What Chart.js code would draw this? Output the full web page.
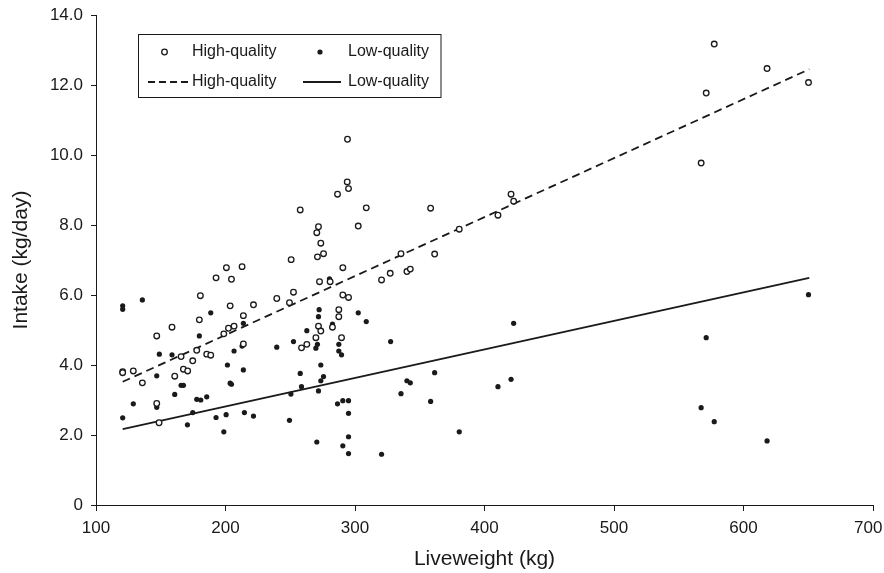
<!DOCTYPE html>
<html>
<head>
<meta charset="utf-8">
<title>Intake vs liveweight</title>
<script src="https://cdn.jsdelivr.net/npm/chart.js@4.4.1/dist/chart.umd.min.js"></script>
<style>
  html, body { margin: 0; padding: 0; background: #fff; }
  #chart-wrap { width: 884px; height: 573px; }
</style>
</head>
<body>
<div id="chart-wrap"><canvas id="intakeChart" width="884" height="573"></canvas></div>
<script>
// Values
const hqWeight = [120.6, 120.6, 128.8, 135.8, 146.9, 146.9, 148.7, 158.7, 160.8, 165.7,
  167.5, 170.8, 174.7, 177.8, 179.8, 180.6, 185.5, 188.6, 192.7, 198.7,
  200.7, 202.3, 203.6, 204.6, 206.6, 212.8, 213.8, 213.8, 221.6, 239.6,
  249.4, 250.7, 252.5, 257.7, 258.7, 262.8, 269.8, 270.5, 271.0, 271.8,
  271.8, 272.6, 273.6, 273.6, 275.7, 280.8, 282.6, 286.5, 287.5, 287.5,
  289.6, 290.6, 290.6, 294.2, 294.0, 295.0, 295.0, 302.5, 308.7, 320.5,
  327.2, 335.5, 340.1, 342.7, 358.4, 361.5, 380.5, 410.4, 420.5, 422.5,
  567.3, 571.2, 577.4, 618.2, 650.2];
const hqIntake = [3.81, 3.78, 3.83, 3.49, 4.83, 2.90, 2.35, 5.08, 3.68, 4.24,
  3.88, 3.83, 4.12, 4.42, 5.29, 5.98, 4.31, 4.28, 6.49, 4.89,
  6.78, 5.05, 5.69, 6.45, 5.11, 6.81, 5.41, 4.60, 5.72, 5.90,
  5.78, 7.01, 6.08, 8.43, 4.49, 4.59, 4.78, 7.78, 7.09, 7.95,
  5.11, 6.38, 7.48, 4.97, 7.18, 6.38, 5.08, 8.88, 5.58, 5.38,
  4.78, 6.78, 6.00, 10.45, 9.23, 9.04, 5.93, 7.97, 8.49, 6.43,
  6.62, 7.18, 6.67, 6.74, 8.48, 7.17, 7.88, 8.28, 8.88, 8.68,
  9.77, 11.77, 13.17, 12.47, 12.07];

const lqWeight = [120.6, 120.6, 120.6, 128.8, 135.8, 146.9, 146.9, 148.9, 158.7, 160.8,
  165.7, 167.5, 170.6, 174.7, 177.8, 179.8, 180.9, 185.5, 188.6, 192.7,
  198.7, 200.5, 201.5, 203.6, 204.6, 206.6, 212.8, 213.8, 213.8, 214.6,
  221.6, 239.6, 249.4, 250.5, 252.5, 257.7, 258.7, 262.8, 269.8, 270.5,
  271.0, 271.8, 271.8, 272.3, 273.6, 273.6, 275.7, 280.3, 282.6, 286.5,
  287.5, 287.5, 289.6, 290.6, 290.6, 295.0, 295.0, 295.0, 295.0, 302.5,
  308.7, 320.5, 327.5, 335.5, 340.1, 342.7, 358.4, 361.5, 380.5, 410.4,
  420.5, 422.5, 567.3, 571.2, 577.4, 618.2, 650.2];
const lqIntake = [5.69, 5.59, 2.49, 2.89, 5.86, 3.69, 2.79, 4.31, 4.29, 3.16,
  3.42, 3.42, 2.29, 2.64, 3.02, 4.83, 3.00, 3.09, 5.49, 2.50,
  2.09, 2.58, 4.00, 3.48, 3.45, 4.40, 4.54, 5.19, 3.86, 2.64,
  2.54, 4.51, 2.42, 3.17, 4.67, 3.76, 3.38, 4.98, 4.48, 1.80,
  4.59, 5.38, 3.26, 5.58, 4.00, 3.55, 3.67, 6.46, 5.17, 2.89,
  4.59, 4.40, 4.29, 2.98, 1.69, 2.98, 2.62, 1.95, 1.47, 5.49,
  5.24, 1.45, 4.67, 3.18, 3.55, 3.49, 2.96, 3.78, 2.09, 3.38,
  3.59, 5.19, 2.78, 4.78, 2.38, 1.83, 6.01];

// fitted regression lines (end points)
const fitWeight = [120.6, 650.8];
const hqFit = [3.52, 12.45];
const lqFit = [2.17, 6.49];

// axis ticks
const xTicks = [100, 200, 300, 400, 500, 600, 700];
const yTicks = [0, 2, 4, 6, 8, 10, 12, 14];

const ink = '#1a1a1a';
const fontFamily = '"Liberation Sans", Arial, Helvetica, sans-serif';

function toPoints(xs, ys) {
  return xs.map((x, i) => ({ x: x, y: ys[i] }));
}

// Legend drawn as a boxed 2x2 grid like the original figure
const boxLegend = {
  id: 'boxLegend',
  afterDraw(chart) {
    const ctx = chart.ctx;
    const sets = chart.data.datasets;
    ctx.save();
    ctx.strokeStyle = ink;
    ctx.lineWidth = 1;
    ctx.strokeRect(138.5, 34.5, 302.5, 63);

    ctx.font = '16px ' + fontFamily;
    ctx.fillStyle = ink;
    ctx.textBaseline = 'middle';
    ctx.textAlign = 'left';

    // row 1: markers
    ctx.beginPath();
    ctx.arc(164.5, 52, 2.8, 0, Math.PI * 2);
    ctx.fillStyle = '#fff';
    ctx.fill();
    ctx.lineWidth = 1.3;
    ctx.stroke();
    ctx.fillStyle = ink;
    ctx.fillText(sets[0].label, 192, 52);

    ctx.beginPath();
    ctx.arc(320, 52, 2.6, 0, Math.PI * 2);
    ctx.fill();
    ctx.fillText(sets[1].label, 348, 52);

    // row 2: lines
    ctx.lineWidth = 1.8;
    ctx.setLineDash([7, 4]);
    ctx.beginPath();
    ctx.moveTo(148, 82);
    ctx.lineTo(190, 82);
    ctx.stroke();
    ctx.fillText(sets[2].label, 192, 82);

    ctx.setLineDash([]);
    ctx.beginPath();
    ctx.moveTo(303, 82);
    ctx.lineTo(341, 82);
    ctx.stroke();
    ctx.fillText(sets[3].label, 348, 82);
    ctx.restore();
  }
};

const ctx = document.getElementById('intakeChart').getContext('2d');
new Chart(ctx, {
  type: 'scatter',
  data: {
    datasets: [
      {
        label: 'High-quality',
        data: toPoints(hqWeight, hqIntake),
        pointStyle: 'circle',
        pointRadius: 2.8,
        pointBorderWidth: 1.3,
        pointBackgroundColor: '#fff',
        pointBorderColor: ink
      },
      {
        label: 'Low-quality',
        data: toPoints(lqWeight, lqIntake),
        pointStyle: 'circle',
        pointRadius: 2.6,
        pointBorderWidth: 0,
        pointBackgroundColor: ink,
        pointBorderColor: ink
      },
      {
        label: 'High-quality',
        data: toPoints(fitWeight, hqFit),
        showLine: true,
        pointRadius: 0,
        borderColor: ink,
        borderWidth: 1.8,
        borderDash: [8, 5],
        fill: false
      },
      {
        label: 'Low-quality',
        data: toPoints(fitWeight, lqFit),
        showLine: true,
        pointRadius: 0,
        borderColor: ink,
        borderWidth: 1.8,
        fill: false
      }
    ]
  },
  options: {
    responsive: false,
    animation: false,
    layout: { padding: { top: 15, right: 11, bottom: 0, left: 0 } },
    plugins: {
      legend: { display: false },
      tooltip: { enabled: false }
    },
    scales: {
      x: {
        type: 'linear',
        min: xTicks[0],
        max: xTicks[xTicks.length - 1],
        afterBuildTicks: (scale) => { scale.ticks = xTicks.map(v => ({ value: v })); },
        afterFit: (scale) => { scale.height = 68; scale.paddingLeft = 0; scale.paddingRight = 0; },
        ticks: {
          color: ink,
          padding: 7,
          maxRotation: 0,
          font: { family: fontFamily, size: 17 },
          // last label nudged left so it stays inside the canvas
          callback: (v) => v === xTicks[xTicks.length - 1] ? v + '  ' : String(v)
        },
        grid: { drawOnChartArea: false, tickLength: 6, color: ink },
        border: { color: ink, width: 1 },
        title: {
          display: true,
          text: 'Liveweight (kg)',
          color: ink,
          font: { family: fontFamily, size: 21, lineHeight: 1.2 },
          padding: { top: 0, bottom: 1 }
        }
      },
      y: {
        min: yTicks[0],
        max: yTicks[yTicks.length - 1],
        afterBuildTicks: (scale) => { scale.ticks = yTicks.map(v => ({ value: v })); },
        afterFit: (scale) => { scale.width = 96; scale.paddingTop = 0; scale.paddingBottom = 0; },
        ticks: {
          color: ink,
          padding: 8,
          font: { family: fontFamily, size: 17 },
          callback: (v) => v === 0 ? '0' : v.toFixed(1)
        },
        grid: { drawOnChartArea: false, tickLength: 5, color: ink },
        border: { color: ink, width: 1 },
        title: {
          display: true,
          text: 'Intake (kg/day)',
          color: ink,
          font: { family: fontFamily, size: 21, lineHeight: 1.2 },
          padding: { top: 9, bottom: 0 }
        }
      }
    }
  },
  plugins: [boxLegend]
});
</script>
</body>
</html>
